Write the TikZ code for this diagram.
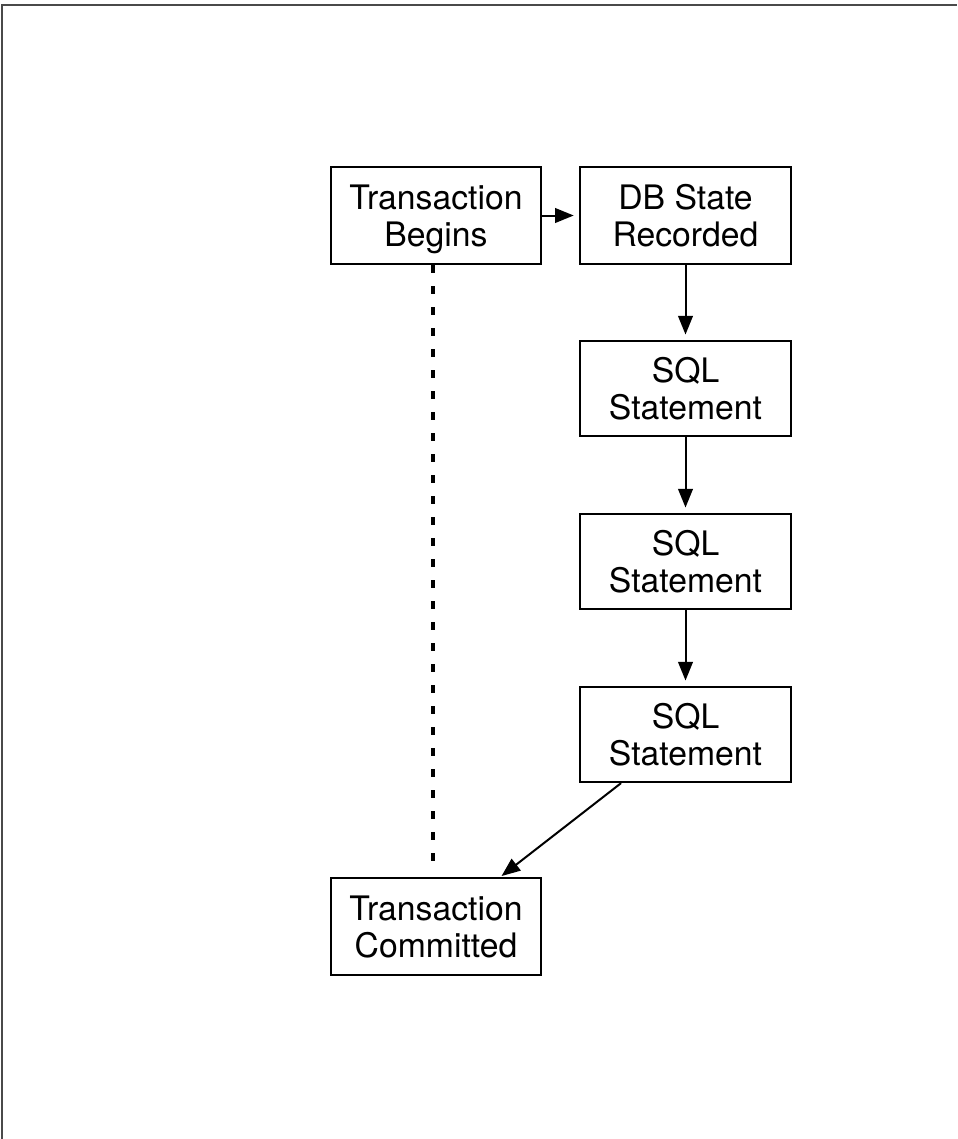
\documentclass[tikz,border=0pt]{standalone}
\usepackage{fontspec}
\setmainfont{TeX Gyre Heros}
\usetikzlibrary{arrows.meta}
\definecolor{framecol}{HTML}{4A4A4A}
\tikzset{
  box/.style={draw=black, line width=1.7pt, rectangle, minimum width=158pt, align=center,
    font=\fontsize{25.3pt}{28pt}\selectfont, text depth=0pt, inner sep=0pt},
  tallbox/.style={box, minimum height=72.75pt},
  sqlbox/.style={box, minimum height=71.25pt},
  arr/.style={draw=black, line width=1.5pt, -{Triangle[length=14pt,width=11pt]}, shorten >=4pt},
  dotline/.style={draw=black, line width=3pt, dash pattern=on 6pt off 9.75pt}
}
\begin{document}
\begin{tikzpicture}[x=0.75pt, y=-0.75pt]
  \useasboundingbox (0,0) rectangle (957,1139);
  \fill[white] (0,0) rectangle (957,1139);
  \draw[framecol, line width=1.1pt] (2,1139) -- (2,5) -- (957,5);

  \node[tallbox] (tb) at (436,215.5) {Transaction\\Begins};
  \node[tallbox] (db) at (685.5,215.5) {DB State\\Recorded};
  \node[sqlbox] (s1) at (685.5,388.5) {SQL\\Statement};
  \node[sqlbox] (s2) at (685.5,561.5) {SQL\\Statement};
  \node[sqlbox] (s3) at (685.5,734.5) {SQL\\Statement};
  \node[tallbox] (tc) at (436,926.5) {Transaction\\Committed};

  \coordinate (dtop) at ([xshift=-2pt]tb.south);
  \coordinate (dbot) at ([xshift=-2pt,yshift=8pt]tc.north);
  \draw[dotline] (dtop) -- (dbot);

  \draw[arr] (tb.east) -- (db.west);
  \draw[arr] (db.south) -- (s1.north);
  \draw[arr] (s1.south) -- (s2.north);
  \draw[arr] (s2.south) -- (s3.north);
  \coordinate (dstart) at ([xshift=31.5pt]s3.south west);
  \coordinate (dend) at ([xshift=-31.5pt]tc.north east);
  \draw[arr, shorten >=1pt] (dstart) -- (dend);
\end{tikzpicture}
\end{document}
